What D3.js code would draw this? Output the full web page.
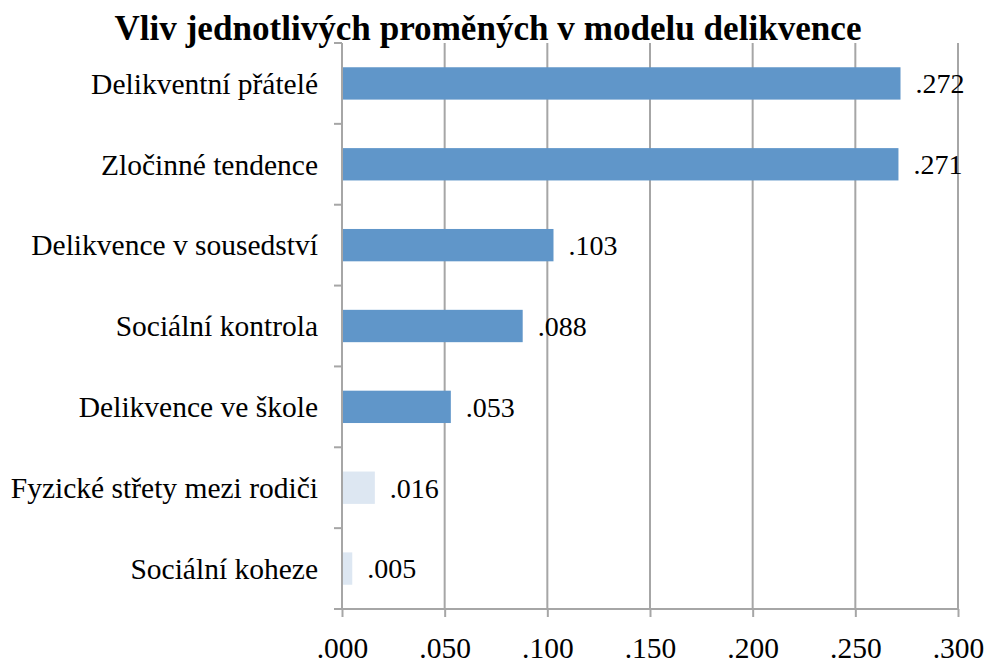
<!DOCTYPE html>
<html>
<head>
<meta charset="utf-8">
<script src="https://cdn.jsdelivr.net/npm/d3@7"></script>
<style>
  body { margin: 0; background: #fff; }
  text { font-family: "Liberation Serif", "Times New Roman", serif; fill: #000; }
</style>
</head>
<body>
<div id="chart"></div>
<script>
var categories = ["Delikventní přátelé", "Zločinné tendence", "Delikvence v sousedství",
  "Sociální kontrola", "Delikvence ve škole", "Fyzické střety mezi rodiči", "Sociální koheze"];
var values = [0.272, 0.271, 0.103, 0.088, 0.053, 0.016, 0.005];
var valueLabels = [".272", ".271", ".103", ".088", ".053", ".016", ".005"];
var significant = [true, true, true, true, true, false, false];
var xTicks = [0, 0.05, 0.1, 0.15, 0.2, 0.25, 0.3];

var width = 986, height = 666;
var margin = {top: 43, right: 28, bottom: 57, left: 342};

var svg = d3.select("#chart").append("svg")
  .attr("width", width)
  .attr("height", height);

var x = d3.scaleLinear().domain([0, 0.3]).range([margin.left, width - margin.right]);
var y = d3.scaleBand().domain(categories)
  .range([margin.top, height - margin.bottom])
  .paddingInner(0.6).paddingOuter(0.3);

// gridlines
svg.append("g").selectAll("line")
  .data(xTicks.slice(1))
  .enter().append("line")
  .attr("x1", function(d){ return x(d); })
  .attr("x2", function(d){ return x(d); })
  .attr("y1", margin.top)
  .attr("y2", height - margin.bottom)
  .attr("stroke", "#a6a6a6")
  .attr("stroke-width", 2);

// bars
svg.append("g").selectAll("rect")
  .data(categories)
  .enter().append("rect")
  .attr("x", x(0))
  .attr("y", function(d){ return y(d); })
  .attr("width", function(d, i){ return x(values[i]) - x(0); })
  .attr("height", y.bandwidth())
  .attr("fill", function(d, i){ return significant[i] ? "#6096c9" : "#dde7f2"; });

// value labels
svg.append("g").selectAll("text")
  .data(categories)
  .enter().append("text")
  .attr("x", function(d, i){ return x(values[i]) + 15; })
  .attr("y", function(d){ return y(d) + y.bandwidth() / 2; })
  .attr("dy", "0.35em")
  .attr("font-size", 28)
  .text(function(d, i){ return valueLabels[i]; });

// x axis
var xAxis = d3.axisBottom(x)
  .tickValues(xTicks)
  .tickSize(8)
  .tickPadding(14)
  .tickFormat(function(d){ return d3.format(".3f")(d).replace(/^0/, ""); });

var gx = svg.append("g")
  .attr("transform", "translate(0," + (height - margin.bottom) + ")")
  .call(xAxis);
gx.select(".domain").attr("stroke", "#a6a6a6").attr("stroke-width", 2)
  .attr("d", "M" + x(0) + ",0H" + x(0.3));
gx.selectAll(".tick line").attr("stroke", "#a6a6a6").attr("stroke-width", 2);
gx.selectAll(".tick text")
  .attr("font-size", 29.5)
  .attr("fill", "#000")
  .attr("dy", "0.9em");

// y axis
var yBounds = categories.map(function(d){ return y(d) - y.step() * y.paddingInner() / 2; });
yBounds.push(height - margin.bottom);
var gy = svg.append("g");
gy.append("line")
  .attr("x1", x(0)).attr("x2", x(0))
  .attr("y1", margin.top).attr("y2", height - margin.bottom)
  .attr("stroke", "#a6a6a6").attr("stroke-width", 2);
gy.selectAll("line.tick")
  .data(yBounds)
  .enter().append("line").attr("class", "tick")
  .attr("x1", x(0) - 8).attr("x2", x(0))
  .attr("y1", function(d){ return d; })
  .attr("y2", function(d){ return d; })
  .attr("stroke", "#a6a6a6").attr("stroke-width", 2);
gy.selectAll("text")
  .data(categories)
  .enter().append("text")
  .attr("x", x(0) - 24)
  .attr("y", function(d){ return y(d) + y.bandwidth() / 2; })
  .attr("dy", "0.35em")
  .attr("text-anchor", "end")
  .attr("font-size", 29.5)
  .text(function(d){ return d; });

// title
svg.append("text")
  .attr("x", 488)
  .attr("y", 40)
  .attr("text-anchor", "middle")
  .attr("font-size", 36)
  .attr("font-weight", "bold")
  .attr("textLength", 747)
  .attr("lengthAdjust", "spacingAndGlyphs")
  .text("Vliv jednotlivých proměných v modelu delikvence");
</script>
</body>
</html>
